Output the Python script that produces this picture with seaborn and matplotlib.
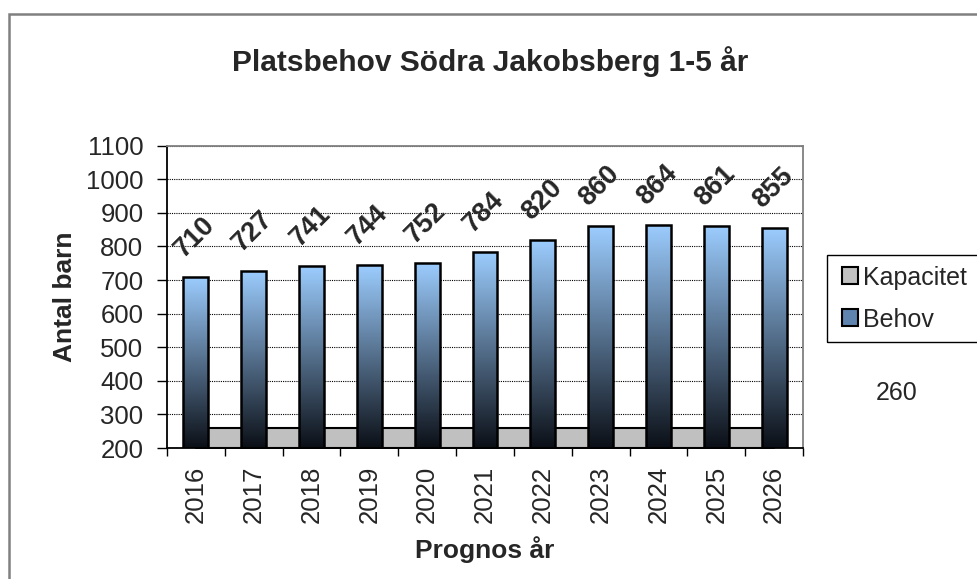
import numpy as np
import matplotlib
matplotlib.use("Agg")
import matplotlib.pyplot as plt
import seaborn as sb
from matplotlib.patches import Patch, Rectangle
from matplotlib.colors import to_rgb

years = ['2016', '2017', '2018', '2019', '2020', '2021', '2022', '2023', '2024', '2025', '2026']
behov = [710, 727, 741, 744, 752, 784, 820, 860, 864, 861, 855]
kapacitet = [260, 260, 260, 260, 260, 260, 260, 260, 260, 260, 260]

sb.set_style("white")
plt.rcParams['font.family'] = ['Liberation Sans', 'DejaVu Sans']

fig = plt.figure(figsize=(9.78, 5.79), dpi=100)
ax = fig.add_axes([167/978, 1-448/579, 636/978, 302.3/579])

pos = np.arange(len(years))
ymin = 200

# kapacitet as an area behind the columns
ax.fill_between(pos, ymin, kapacitet, facecolor='#C0C0C0', edgecolor='black', linewidth=1.5, zorder=1)

sb.barplot(x=years, y=behov, width=0.43, color='#6f93bd', edgecolor='black',
           linewidth=1.8, ax=ax, zorder=3)

# gradient fill for the columns
top = np.array(to_rgb('#9ccdff'))
bot = np.array(to_rgb('#0b0f16'))
t = np.linspace(0, 1, 256)[:, None]
grad = (top * (1 - t) + bot * t)[:, None, :]
for bar in ax.patches:
    x0, w, h = bar.get_x(), bar.get_width(), bar.get_height()
    im = ax.imshow(grad, extent=[x0, x0 + w, ymin, h], aspect='auto', zorder=2.5,
                   origin='upper', interpolation='bicubic')
    im.set_clip_path(bar)
    bar.set_facecolor('none')

for i, v in enumerate(behov):
    ax.annotate(str(v), (i, v), xytext=(-1, 40), textcoords='offset pixels',
                ha='center', va='center', rotation=45, rotation_mode='anchor',
                fontsize=19.5, fontweight='bold', zorder=5)

ax.set_xlim(-0.5, len(years) - 0.5)
ax.set_ylim(ymin, 1100)
ax.set_yticks(range(200, 1101, 100))
ax.yaxis.grid(True, linestyle=(0, (1, 1)), color='black', linewidth=0.8)
ax.set_axisbelow(True)

ax.set_xticks(pos)
ax.set_xticklabels(years, rotation=90, fontsize=18.5)
ax.set_xticks(np.arange(-0.5, len(years)), minor=True)
ax.tick_params(axis='x', which='major', length=0, pad=13)
ax.tick_params(axis='x', which='minor', length=6, width=1, color='black', direction='out', bottom=True)
ax.tick_params(axis='y', length=7, width=1, color='black', direction='out', left=True, labelsize=18.5, pad=10)

for s in ['left', 'bottom']:
    ax.spines[s].set_color('black')
    ax.spines[s].set_linewidth(1.3)
for s in ['top', 'right']:
    ax.spines[s].set_color('#808080')
    ax.spines[s].set_linewidth(1.3)

ax.set_ylabel('Antal barn', fontsize=19, fontweight='bold')
ax.set_xlabel('Prognos år', fontsize=19, fontweight='bold')
ax.yaxis.set_label_coords(-0.142, 0.5)
ax.xaxis.set_label_coords(0.5, -0.292)

fig.text(0.501, 1-62/579, 'Platsbehov Södra Jakobsberg 1-5 år', ha='center', va='center',
         fontsize=21.5, fontweight='bold')

# legend box runs past the right edge like in the original
fig.patches.append(Rectangle((827/978, 1-342/579), 0.3, 87/579, transform=fig.transFigure,
                             fill=False, edgecolor='black', linewidth=1.0))
handles = [Patch(facecolor='#C0C0C0', edgecolor='black', linewidth=1.5),
           Patch(facecolor='#5f84b0', edgecolor='black', linewidth=1.5)]
leg = fig.legend(handles, ['Kapacitet', 'Behov'], loc='center left',
                 bbox_to_anchor=(842/978, 1-298.5/579), fontsize=18, frameon=False,
                 handlelength=0.65, handleheight=0.65, handletextpad=0.2,
                 borderpad=0, labelspacing=0.72, borderaxespad=0)

fig.text(897/978, 1-393/579, '260', ha='center', va='center', fontsize=18)

# outer chart border
fig.patches.append(Rectangle((9/978, -0.05), 1.1, 1-14/579+0.05, transform=fig.transFigure,
                             fill=False, edgecolor='#808080', linewidth=1.8))

fig.savefig('out.png', dpi=100)
